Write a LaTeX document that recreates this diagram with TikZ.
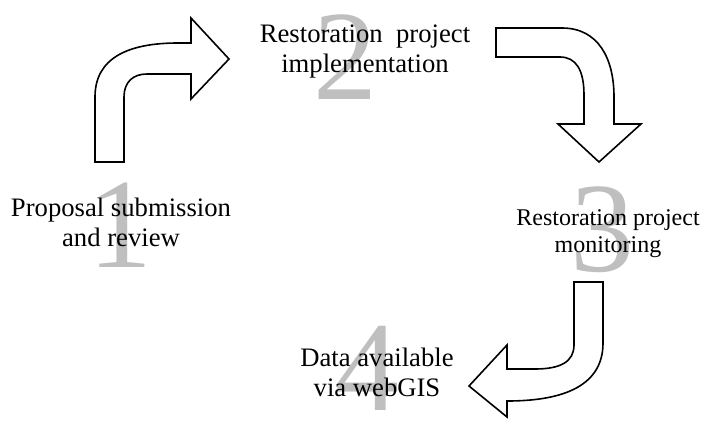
\documentclass[tikz,border=0pt]{standalone}
\usepackage{fontspec}
\setmainfont{Liberation Serif}
\definecolor{numgray}{RGB}{191,191,191}
\tikzset{
  bentarrow/.style={draw=black, fill=white, line width=1.2pt, line join=miter},
  bignum/.style={anchor=base, inner sep=0pt, text=numgray, font=\fontsize{96}{100}\selectfont},
  steptext/.style={anchor=base, inner sep=0pt, font=\fontsize{20}{22.5}\selectfont},
  smalltext/.style={anchor=base, inner sep=0pt, font=\fontsize{18}{20.25}\selectfont}
}
\begin{document}
\begin{tikzpicture}[x=0.75pt, y=-0.75pt]
\path[use as bounding box] (0,0) rectangle (703,422);

% big grey step numbers
\node[bignum] (n1) at (120,267) {1};
\node[bignum] (n2) at (345,99) {2};
\node[bignum] (n3) at (602,271) {3};
\node[bignum] (n4) at (367,410) {4};

% labels
\node[steptext] (t1) at (121,216) {\begin{tabular}[t]{@{}c@{}}Proposal submission\\and review\end{tabular}};
\node[steptext] (t2) at (365,42) {\begin{tabular}[t]{@{}c@{}}Restoration\ \ project\\implementation\end{tabular}};
\node[smalltext] (t3) at (608,225) {\begin{tabular}[t]{@{}c@{}}Restoration project\\monitoring\end{tabular}};
\node[steptext] (t4) at (377,366) {\begin{tabular}[t]{@{}c@{}}Data available\\via webGIS\end{tabular}};

% arrow 1: up then right
\draw[bentarrow] (95,162) -- (95,97) .. controls (95,58) and (128,43) .. (178,43)
  -- (191,43) -- (191,18) -- (229,59) -- (191,99) -- (191,74) -- (147,74)
  .. controls (133,74) and (124,82) .. (124,97) -- (124,162) -- cycle;

% arrow 2: right then down
\draw[bentarrow] (496,28) -- (562,28) .. controls (598,28) and (614,58) .. (614,97)
  -- (614,124) -- (641,124) -- (599,162) -- (558,124) -- (584,124) -- (584,95)
  .. controls (584,70) and (576,57) .. (560,57) -- (496,57) -- cycle;

% arrow 3: down then left
\draw[bentarrow] (574,282) -- (603,282) -- (603,343) .. controls (603,385) and (565,401) .. (507,401)
  -- (507,417) -- (469,386) -- (507,345) -- (507,369) -- (535,369)
  .. controls (560,369) and (574,362) .. (574,345) -- cycle;
\end{tikzpicture}
\end{document}
